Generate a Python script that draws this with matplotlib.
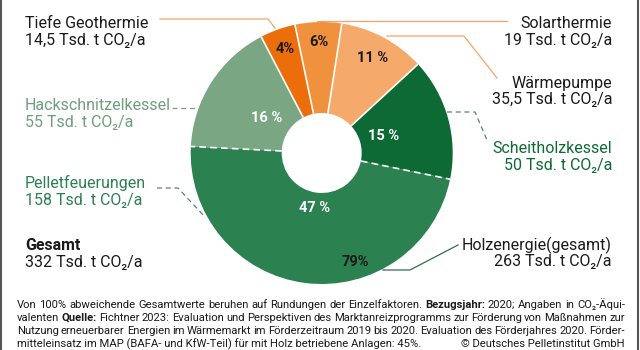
import numpy as np
import matplotlib
matplotlib.use("Agg")
import matplotlib.pyplot as plt

plt.rcParams['font.family'] = ['Roboto', 'DejaVu Sans']

# Daten
namen = ['Tiefe Geothermie', 'Solarthermie', 'Wärmepumpe',
         'Scheitholzkessel', 'Pelletfeuerungen', 'Hackschnitzelkessel']
werte = [14.5, 19, 35.5, 50, 158, 55]
werte_txt = ['14,5', '19', '35,5', '50', '158', '55']
prozent = ['4%', '6%', '11 %', '15 %', '47 %', '16 %']
gesamt_txt = '332'
holz_txt = '263'
holz_prozent = '79%'

farben = ['#EC6E0B', '#F0913E', '#F5AA6B', '#0E6A34', '#2B8150', '#7AA683']
pct_farben = ['#1a1a1a', '#1a1a1a', '#1a1a1a', 'white', 'white', 'white']
pct_radius = [110, 111, 108, 64, 55, 65]

H = 350
def Y(py):
    return H - py

fig = plt.figure(figsize=(6.4, 3.5), dpi=100)
ax = fig.add_axes([0, 0, 1, 1])

cx, cy = 321.7, Y(153)
R, r_in = 131, 40
start = 117.5

ax.pie(werte, colors=farben, startangle=start, counterclock=False,
       radius=R, center=(cx, cy),
       wedgeprops=dict(width=R - r_in, linewidth=0))
ax.set_xlim(0, 640)
ax.set_ylim(0, H)
ax.set_aspect('auto')
ax.axis('off')

# Grenzlinien zwischen den Segmenten
anteile = np.array(werte) / sum(werte) * 360
grenzen = start - np.concatenate([[0], np.cumsum(anteile)])
for i in range(len(werte)):
    a = np.radians(grenzen[i])
    ls = '--' if i in (4, 5) else '-'
    ax.plot([cx + r_in * np.cos(a), cx + R * np.cos(a)],
            [cy + r_in * np.sin(a), cy + R * np.sin(a)],
            color='white', lw=1.2, ls=ls, dashes=(4, 2.5) if ls == '--' else (None, None),
            solid_capstyle='butt')

# Prozentwerte
for i, p in enumerate(prozent):
    a = np.radians((grenzen[i] + grenzen[i + 1]) / 2)
    ax.text(cx + pct_radius[i] * np.cos(a), cy + pct_radius[i] * np.sin(a), p,
            ha='center', va='center', fontsize=10.5, fontweight='bold',
            color=pct_farben[i])

a79 = np.radians(-73)
ax.text(cx + 114 * np.cos(a79), cy + 114 * np.sin(a79), holz_prozent,
        ha='center', va='center', fontsize=10.5, fontweight='bold', color='#1a1a1a')

# Beschriftungen
fs = 11.5
def label(x, y1, y2, name, wert, color, ha, bold=False):
    ax.text(x, Y(y1), name, ha=ha, va='baseline', fontsize=fs, color=color,
            fontweight='bold' if bold else 'normal')
    ax.text(x, Y(y2), wert + ' Tsd. t CO₂/a', ha=ha, va='baseline', fontsize=fs,
            color=color)

label(25, 28, 45, namen[0], werte_txt[0], '#1a1a1a', 'left')
label(25, 110, 127, namen[5], werte_txt[5], '#6E9F7A', 'left')
label(25, 188, 205, namen[4], werte_txt[4], '#2B8150', 'left')
label(25, 250, 267, 'Gesamt', gesamt_txt, '#1a1a1a', 'left', bold=True)
label(612, 28, 45, namen[1], werte_txt[1], '#1a1a1a', 'right')
label(612, 88, 104, namen[2], werte_txt[2], '#1a1a1a', 'right')
label(612, 153, 170, namen[3], werte_txt[3], '#0E6A34', 'right')
label(612, 250, 266, 'Holzenergie(gesamt)', holz_txt, '#1a1a1a', 'right')

# Führungslinien
def leader(pts, color, dashed=False):
    xs = [p[0] for p in pts]
    ys = [Y(p[1]) for p in pts]
    ax.plot(xs, ys, color=color, lw=0.9, ls='--' if dashed else '-',
            dashes=(4, 3) if dashed else (None, None))

orange_l = '#F2A56A'
leader([(160, 19), (268, 19), (275, 28)], orange_l)
leader([(317, 21), (507, 21)], orange_l)
leader([(387, 36), (464, 36), (497, 78)], orange_l)
leader([(447, 112), (475, 112), (487, 140)], '#5A8470', dashed=True)
leader([(172, 108), (198, 108)], '#7E9C88', dashed=True)
leader([(157, 188), (178, 188), (205, 217)], '#5A8470', dashed=True)
leader([(383, 270), (410, 270), (458, 245)], '#2E6E4E')

# Fußnote, Blocksatz
fn = 8.1
zeilen = [
    [('Von', 0), ('100%', 0), ('abweichende', 0), ('Gesamtwerte', 0), ('beruhen', 0),
     ('auf', 0), ('Rundungen', 0), ('der', 0), ('Einzelfaktoren.', 0), ('Bezugsjahr:', 1),
     ('2020;', 0), ('Angaben', 0), ('in', 0), ('CO₂-Äqui-', 0)],
    [('valenten', 0), ('Quelle:', 1), ('Fichtner', 0), ('2023:', 0), ('Evaluation', 0),
     ('und', 0), ('Perspektiven', 0), ('des', 0), ('Marktanreizprogramms', 0), ('zur', 0),
     ('Förderung', 0), ('von', 0), ('Maßnahmen', 0), ('zur', 0)],
    [('Nutzung', 0), ('erneuerbarer', 0), ('Energien', 0), ('im', 0), ('Wärmemarkt', 0),
     ('im', 0), ('Förderzeitraum', 0), ('2019', 0), ('bis', 0), ('2020.', 0),
     ('Evaluation', 0), ('des', 0), ('Förderjahres', 0), ('2020.', 0), ('Förder-', 0)],
]
zeilen_y = [308, 321, 334]
x0, x1 = 17, 625
renderer = fig.canvas.get_renderer()
for woerter, yy in zip(zeilen, zeilen_y):
    arts = [ax.text(0, Y(yy), w, fontsize=fn, color='#1a1a1a', va='baseline',
                    fontweight='bold' if b else 'normal') for w, b in woerter]
    breiten = [a.get_window_extent(renderer).width for a in arts]
    luecke = (x1 - x0 - sum(breiten)) / (len(arts) - 1)
    x = x0
    for a, b in zip(arts, breiten):
        a.set_x(x)
        x += b + luecke

ax.text(x0, Y(347), 'mitteleinsatz im MAP (BAFA- und KfW-Teil) für mit Holz betriebene Anlagen: 45%.',
        fontsize=fn, color='#1a1a1a', va='baseline')
ax.text(x1, Y(347), '© Deutsches Pelletinstitut GmbH', fontsize=fn, color='#1a1a1a',
        va='baseline', ha='right')

# Rahmen links/rechts
ax.plot([0.8, 0.8], [0, H], color='#555555', lw=1.5)
ax.plot([638, 638], [0, H], color='#555555', lw=1.5)

fig.savefig('out.png', dpi=100)
